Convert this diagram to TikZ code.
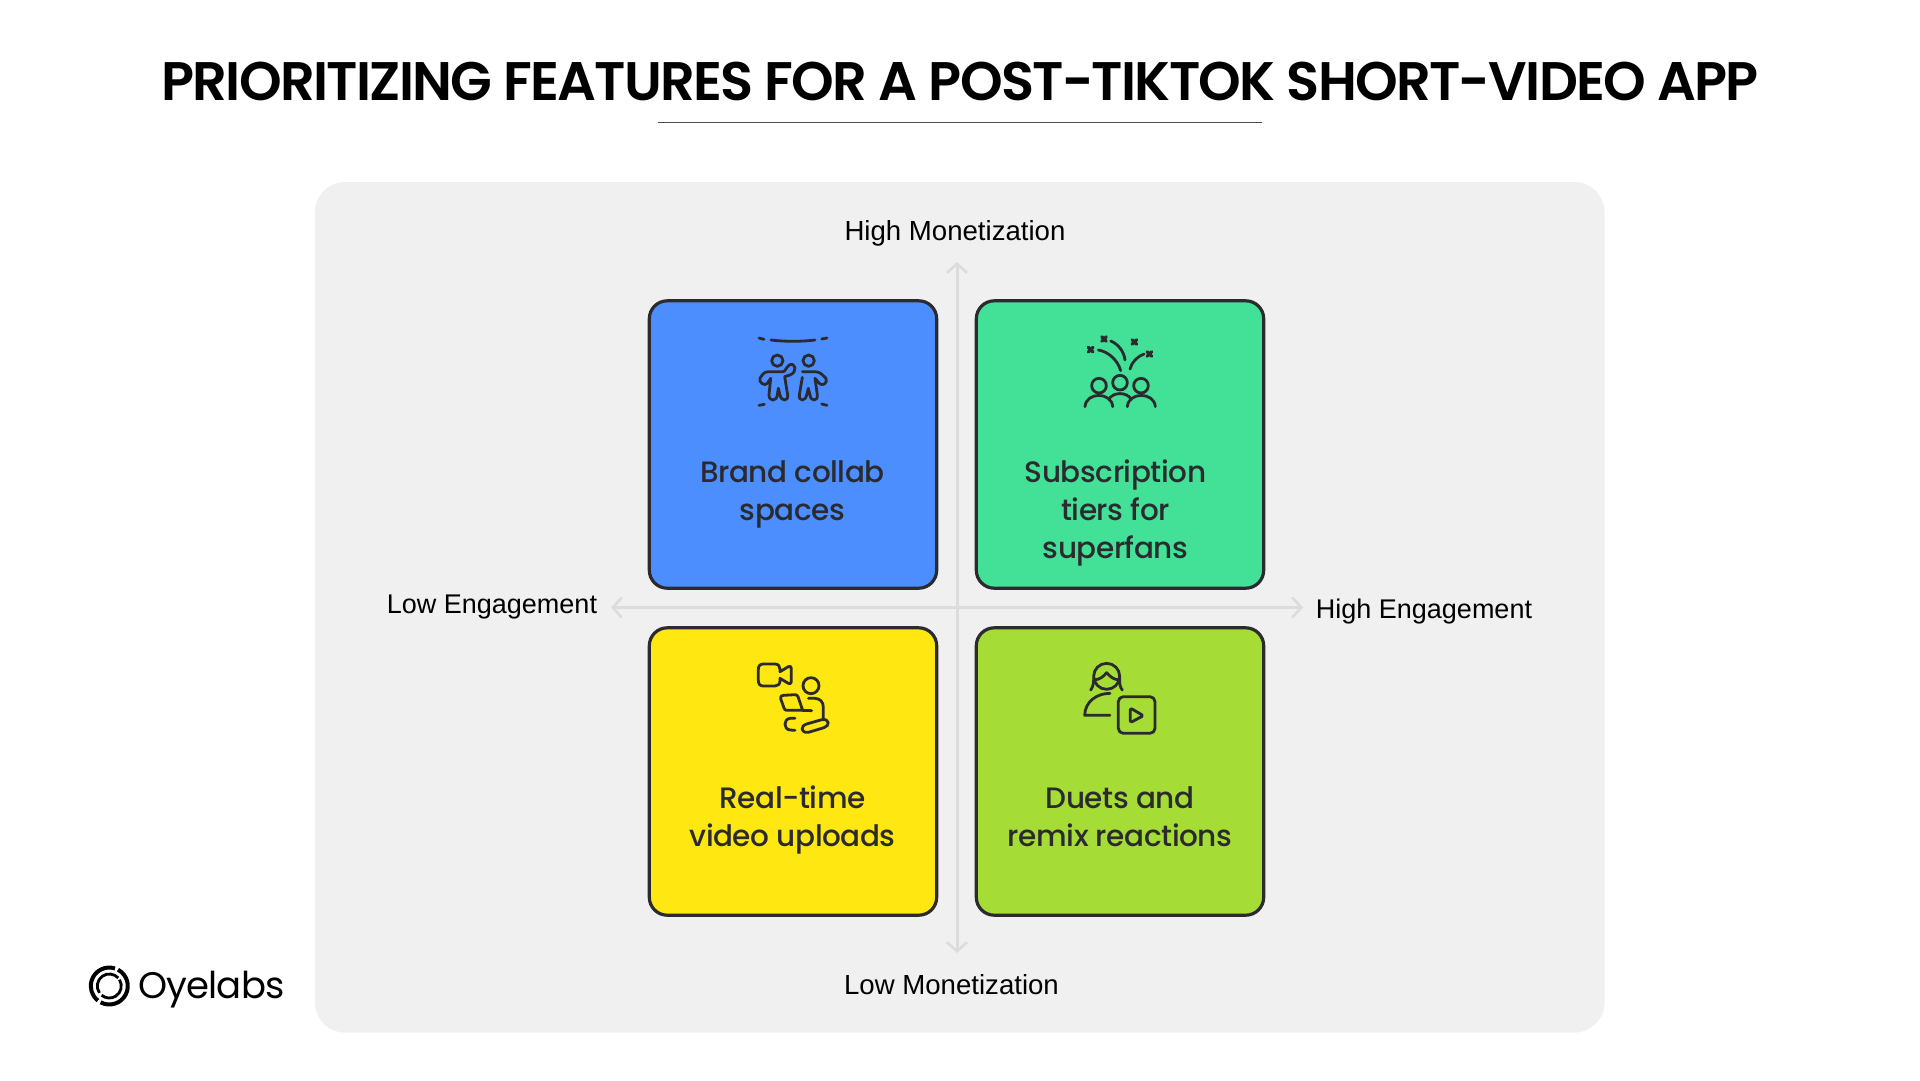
\documentclass[tikz,border=0pt]{standalone}
\usepackage{fontspec}
\usetikzlibrary{arrows.meta}
\setmainfont{Liberation Sans}
\newfontfamily\titlefont{Poppins}[UprightFont=* SemiBold,LetterSpace=-3.2]
\newfontfamily\cardfont{Poppins}[UprightFont=* Medium,LetterSpace=-1.5]
\newfontfamily\logofont{Poppins}[LetterSpace=-2.5]
\definecolor{ink}{HTML}{2B2B2F}
\definecolor{panelgray}{HTML}{F0F0F0}
\definecolor{axisgray}{HTML}{DCDCDC}
\definecolor{cardblue}{HTML}{4D8EFF}
\definecolor{cardgreen}{HTML}{43E097}
\definecolor{cardyellow}{HTML}{FFE711}
\definecolor{cardlime}{HTML}{A5DC36}
\tikzset{
  card/.style={draw=ink,line width=3.2pt,rounded corners=18pt,minimum width=287.4pt,minimum height=287.4pt,inner sep=0pt},
  cardtext/.style={font=\cardfont\fontsize{29.5}{38}\selectfont,text=ink,align=center,inner sep=0pt},
  axislabel/.style={font=\fontsize{27.6}{30}\selectfont,text=black,inner sep=0pt},
  axislabelh/.style={font=\fontsize{27}{30}\selectfont,text=black,inner sep=0pt},
  axisline/.style={draw=axisgray,line width=3pt,{Straight Barb[length=9pt,width=20pt,line width=2.6pt]}-{Straight Barb[length=9pt,width=20pt,line width=2.6pt]}},
  icon/.style={draw=ink,line width=2.8pt,line cap=round,line join=round},
  izoom/.style={x=0.3333pt,y=-0.3333pt},
}
\begin{document}
\begin{tikzpicture}[x=1pt,y=-1pt]
\useasboundingbox (0,0) rectangle (1920,1080);
\fill[white] (0,0) rectangle (1920,1080);
\fill[panelgray,rounded corners=30pt] (315,182) rectangle (1604.5,1032.5);
\node[font=\titlefont\fontsize{54.3}{60}\selectfont,text=black,inner sep=0pt] (title) at (960,81) {PRIORITIZING FEATURES FOR A POST-TIKTOK SHORT-VIDEO APP};
\coordinate (ul) at (657.5,122.5);\coordinate (ur) at (1261.5,122.5);
\draw[line width=1.6pt,draw=black!70] (ul) -- (ur);
% axes
\coordinate (atop) at (957,262);\coordinate (abot) at (957,953);
\coordinate (aleft) at (611,607.5);\coordinate (aright) at (1303,607.5);
\draw[axisline] (atop) -- (abot);
\draw[axisline] (aleft) -- (aright);
% cards
\node[card,fill=cardblue] (c1) at (793,444.5) {};
\node[card,fill=cardgreen] (c2) at (1120,444.5) {};
\node[card,fill=cardyellow] (c3) at (793,771.5) {};
\node[card,fill=cardlime] (c4) at (1120,771.5) {};
\node[cardtext] (t1) at (792.5,494.5) {Brand collab\\spaces};
\node[cardtext] (t2) at (1115.5,512.5) {Subscription\\tiers for\\superfans};
\node[cardtext] (t3) at (792.5,820) {Real-time\\video uploads};
\node[cardtext] (t4) at (1120,817) {Duets and\\remix reactions};
% labels
\node[axislabel] (l1) at (955,233.5) {High Monetization};
\node[axislabel] (l2) at (951.5,984.5) {Low Monetization};
\node[axislabelh] (l3) at (492,607.5) {Low Engagement};
\node[axislabelh] (l4) at (1424,611.5) {High Engagement};
% icon 1
\begin{scope}[shift={(740,320)},izoom]
\draw[icon] (93,60) .. controls (130,65) and (190,65) .. (225,60);
\draw[icon] (57,54) -- (72,58) (245,57) -- (261,54) (57,256) -- (73,253) (245,252) -- (261,256);
\draw[icon] (112,122) circle (17);
\draw[icon] (206,122) circle (17);
\draw[icon] (130,155) -- (85,155) .. controls (72,155) and (66,165) .. (60,175) .. controls (55,187) and (75,200) .. (82,190) -- (92,175) -- (87,225) .. controls (87,245) and (110,245) .. (112,225) -- (115,205) -- (120,225) .. controls (124,245) and (145,245) .. (143,225) -- (134,170) -- (150,165) .. controls (175,155) and (165,125) .. (148,135) .. controls (140,140) and (135,155) .. (130,155);
\draw[icon] (187,155) -- (225,155) .. controls (240,155) and (248,165) .. (258,175) .. controls (265,190) and (245,200) .. (238,190) -- (225,175) -- (232,225) .. controls (234,245) and (212,245) .. (210,225) -- (205,205) -- (200,225) .. controls (196,245) and (176,245) .. (178,225) -- (187,172);
\end{scope}
% icon 2
\begin{scope}[shift={(1070,320)},izoom]
\foreach \sx/\sy in {62/89,102/57,193/66,238/102}{
  \draw[icon,line width=3.2pt] (\sx-7,\sy-7) -- (\sx+7,\sy+7) (\sx-7,\sy+7) -- (\sx+7,\sy-7);
}
\draw[icon] (85,90) .. controls (115,95) and (143,120) .. (152,152);
\draw[icon] (122,63) .. controls (145,72) and (162,95) .. (165,120);
\draw[icon] (180,147) .. controls (185,125) and (205,108) .. (222,102);
\draw[icon] (87,197) circle (22) (150,188) circle (22) (213,197) circle (22);
\draw[icon] (45,260) .. controls (48,215) and (125,215) .. (128,260);
\draw[icon] (116,238) .. controls (130,215) and (170,215) .. (184,238);
\draw[icon] (172,260) .. controls (175,215) and (253,215) .. (256,260);
\end{scope}
% icon 3
\begin{scope}[shift={(740,650)},izoom]
\draw[icon] (70,42) -- (105,42) .. controls (116,42) and (120,50) .. (120,58) -- (120,65) -- (145,50) .. controls (150,47) and (154,50) .. (154,55) -- (154,95) .. controls (154,100) and (150,103) .. (145,100) -- (120,85) -- (120,92) .. controls (120,102) and (114,108) .. (105,108) -- (70,108) .. controls (60,108) and (55,102) .. (55,92) -- (55,58) .. controls (55,48) and (60,42) .. (70,42) -- cycle;
\draw[icon] (213,107) circle (24);
\draw[icon] (130,136) -- (165,134) .. controls (170,134) and (172,136) .. (174,140) -- (188,181) -- (140,181) .. controls (135,181) and (134,178) .. (132,174) -- (122,146) .. controls (120,140) and (124,136) .. (130,136) -- cycle;
\draw[icon] (188,181) -- (215,182);
\draw[icon] (205,145) -- (225,145) .. controls (240,146) and (250,155) .. (250,172) -- (250,208);
\draw[icon] (200,222) -- (245,209) .. controls (270,205) and (270,228) .. (252,233) -- (205,247) .. controls (182,250) and (180,228) .. (200,222) -- cycle;
\draw[icon] (165,205) -- (150,205) .. controls (130,207) and (130,238) .. (150,240) -- (165,241);
\end{scope}
% icon 4
\begin{scope}[shift={(1070,650)},izoom]
\draw[icon] (110,79) circle (39);
\draw[icon] (73,90) .. controls (90,88) and (100,80) .. (110,68) .. controls (120,80) and (130,88) .. (147,90);
\draw[icon] (71,85) .. controls (72,100) and (68,112) .. (62,120);
\draw[icon] (149,85) .. controls (148,100) and (150,112) .. (157,120);
\draw[icon] (120,130) .. controls (80,130) and (45,155) .. (44,196) -- (120,196);
\draw[icon,rounded corners=5pt] (145,140) rectangle (255,250);
\draw[icon,rounded corners=1.5pt] (181,174) -- (220,197) -- (181,218) -- cycle;
\end{scope}
% logo
\begin{scope}[shift={(109.3,986)}]
\draw[black,line width=4pt] (118:18.5) arc[start angle=118,end angle=-62,radius=18.5];
\draw[black,line width=4pt] (-72:18.5) arc[start angle=-72,end angle=-232,radius=18.5];
\draw[black,line width=2.8pt] (145:12) arc[start angle=145,end angle=318,radius=12];
\draw[black,line width=2.8pt] (328:12) arc[start angle=328,end angle=490,radius=12];
\end{scope}
\node[font=\logofont\fontsize{37}{44}\selectfont,text=black,inner sep=0pt,anchor=west] (logo) at (138.5,989.5) {Oyelabs};
\end{tikzpicture}
\end{document}
